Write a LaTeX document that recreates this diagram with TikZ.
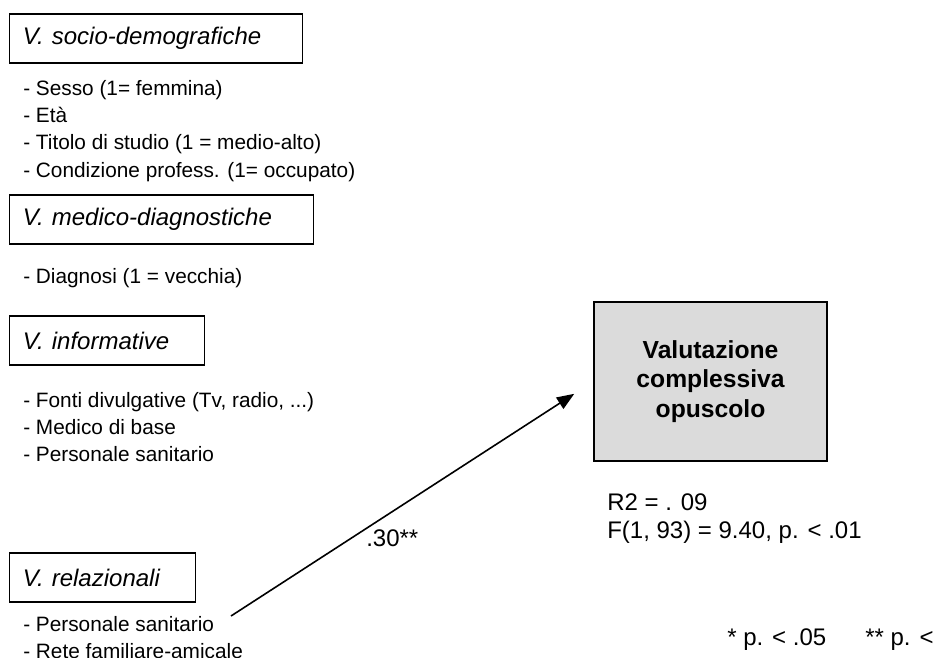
\documentclass[tikz,border=0pt]{standalone}
\usepackage{fontspec}
\setmainfont{Liberation Sans}
\usepackage{tikz}
\usetikzlibrary{arrows.meta, positioning}

\begin{document}
\begin{tikzpicture}[x=0.75pt, y=-0.75pt,
    catbox/.style={rectangle, draw, line width=0.9pt, anchor=west, minimum height=36.75pt, inner xsep=10pt, align=left, font=\fontsize{18}{20}\selectfont\itshape},
    itemlist/.style={anchor=west, align=left, inner sep=0pt, font=\fontsize{15.6}{20.4}\selectfont},
    outcome/.style={rectangle, draw, line width=1.1pt, fill=gray!28, minimum width=174.75pt, minimum height=119.25pt, align=center, font=\fontsize{18.5}{22}\selectfont\bfseries},
    note/.style={anchor=west, inner sep=0pt, font=\fontsize{18}{22.5}\selectfont},
    arrow/.style={line width=1.2pt, -{Triangle[length=13pt, width=10pt]}, shorten >=17pt}]

    \useasboundingbox (0,0) rectangle (944,657);
    \clip (0,0) rectangle (944,657);

    % Predictor groups
    \node [catbox, text width=199.75pt] (socio) at (9,38.5) {\mbox{V. socio-demografiche}};
    \node [itemlist] (socioitems) at (23,131) {- Sesso (1= femmina)\\- Età\\- Titolo di studio (1 = medio-alto)\\- Condizione profess. (1= occupato)};
    \node [catbox, text width=208pt] (medico) at (9,219.5) {\mbox{V. medico-diagnostiche}};
    \node [itemlist] (medicoitems) at (23,278) {- Diagnosi (1 = vecchia)};
    \node [catbox, text width=126.25pt] (info) at (9,340.5) {\mbox{V. informative}};
    \node [itemlist] (infoitems) at (23,427) {- Fonti divulgative (Tv, radio, ...)\\- Medico di base\\- Personale sanitario};
    \node [catbox, text width=119.5pt] (rel) at (9,577.5) {\mbox{V. relazionali}};
    \node [itemlist] (relitems) at (23,637.5) {- Personale sanitario\\- Rete familiare-amicale};

    % Outcome
    \node [outcome] (valut) at (710.5,381.5) {Valutazione\\complessiva\\opuscolo};
    \node [note] (r2) at (607,502) {R2 = . 09};
    \node [note] (ftest) at (607,532) {F(1, 93) = 9.40, p. < .01};

    % Path
    \coordinate (relstart) at (231,616);
    \draw [arrow] (relstart) -- (valut.west);
    \node [note] (coef) at (366,538) {.30**};

    % Legend
    \node [note] (sig1) at (727,640) {* p. < .05};
    \node [note] (sig2) at (865,640) {** p. <};
\end{tikzpicture}
\end{document}
